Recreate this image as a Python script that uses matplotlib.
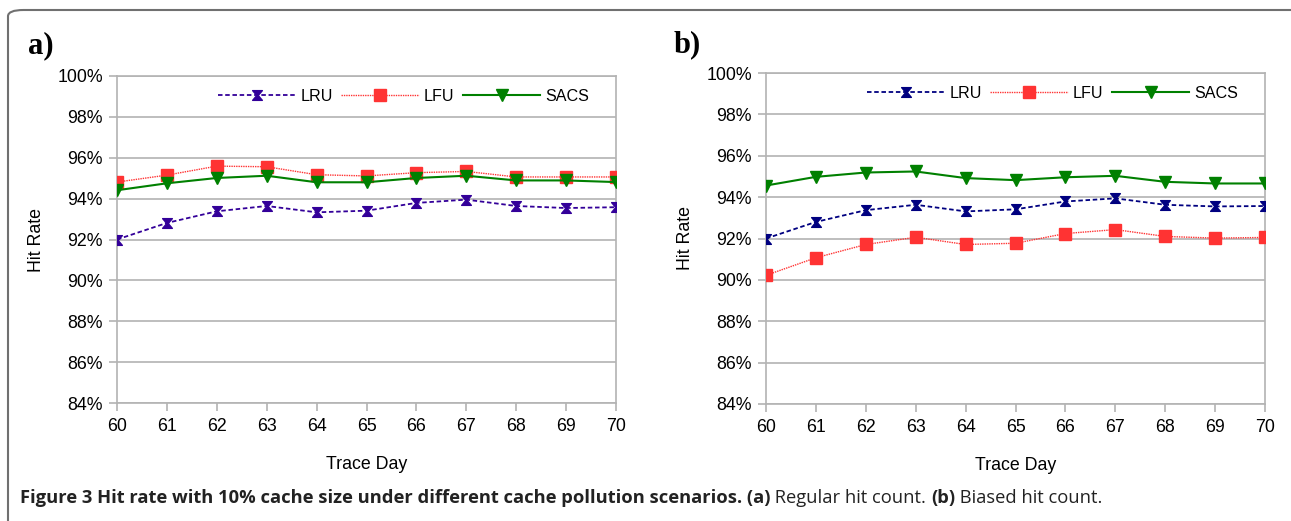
import matplotlib.pyplot as plt
import matplotlib.patches as mpatches
from matplotlib.path import Path
from matplotlib.ticker import FuncFormatter

# trace days on the x axis
days = [60, 61, 62, 63, 64, 65, 66, 67, 68, 69, 70]

# (a) regular hit count, hit rate in %
lru_a = [92.0, 92.81, 93.38, 93.64, 93.33, 93.41, 93.79, 93.95, 93.64, 93.54, 93.58]
lfu_a = [94.81, 95.15, 95.59, 95.56, 95.17, 95.11, 95.27, 95.33, 95.06, 95.06, 95.06]
sacs_a = [94.41, 94.75, 95.01, 95.12, 94.80, 94.80, 95.01, 95.12, 94.89, 94.89, 94.81]

# (b) biased hit count
lru_b = [92.0, 92.8, 93.37, 93.63, 93.31, 93.41, 93.79, 93.94, 93.63, 93.55, 93.57]
lfu_b = [90.22, 91.07, 91.71, 92.06, 91.71, 91.77, 92.24, 92.43, 92.10, 92.02, 92.05]
sacs_b = [94.56, 94.98, 95.19, 95.24, 94.92, 94.82, 94.96, 95.03, 94.74, 94.66, 94.66]

yticks = [84, 86, 88, 90, 92, 94, 96, 98, 100]

plt.rcParams['font.family'] = ['Liberation Sans', 'DejaVu Sans']
FS = 12.8

# hourglass marker used for LRU
hourglass = Path([(-1, 1), (1, 1), (0.15, 0), (1, -1), (-1, -1), (-0.15, 0), (-1, 1)],
                 [Path.MOVETO] + [Path.LINETO] * 5 + [Path.CLOSEPOLY])

fig = plt.figure(figsize=(12.91, 5.21), dpi=100)

# rounded frame around the whole figure
frame = mpatches.FancyBboxPatch((8 / 1291, -0.05), 1.2, 1 - 10 / 521 + 0.05,
                                boxstyle="round,pad=0,rounding_size=0.012",
                                transform=fig.transFigure, fill=False,
                                edgecolor='#707070', linewidth=1.5, clip_on=False)
fig.patches.append(frame)


def panel(rect, lru, lfu, sacs, lru_color, label, label_xy):
    ax = fig.add_axes(rect)
    ax.plot(days, lru, color=lru_color, linestyle=(0, (2.5, 1.5)), linewidth=1.3,
            marker=hourglass, markersize=7, label='LRU', zorder=3)
    ax.plot(days, lfu, color='#ff3333', linestyle=(0, (1, 0.7)), linewidth=1.0,
            marker='s', markersize=8, label='LFU', zorder=3)
    ax.plot(days, sacs, color='#008000', linestyle='-', linewidth=1.5,
            marker='v', markersize=8, label='SACS', zorder=3)
    ax.set_xlim(60, 70)
    ax.set_ylim(84, 100)
    ax.set_xticks(days)
    ax.set_yticks(yticks)
    ax.yaxis.set_major_formatter(FuncFormatter(lambda v, p: '%d%%' % v))
    ax.grid(axis='y', color='#b3b3b3', linewidth=1.2)
    ax.set_axisbelow(True)
    for s in ax.spines.values():
        s.set_color('#b3b3b3')
        s.set_linewidth(1.2)
    ax.tick_params(axis='both', colors='#b3b3b3', labelcolor='black', labelsize=FS,
                   length=6, width=1.2)
    ax.tick_params(axis='x', pad=5)
    ax.tick_params(axis='y', pad=4)
    ax.set_xlabel('Trace Day', fontsize=FS, labelpad=15)
    ax.set_ylabel('Hit Rate', fontsize=FS, labelpad=9)
    ax.legend(loc='upper right', ncol=3, frameon=False, fontsize=11.6,
              bbox_to_anchor=(0.975, 1.005), handlelength=4.8, columnspacing=0.55,
              handletextpad=0.3)
    fig.text(label_xy[0], label_xy[1], label, fontsize=22, fontweight='bold',
             family=['Liberation Serif', 'DejaVu Serif'], va='center', ha='left')
    return ax


panel([117 / 1291, 1 - 403 / 521, 499 / 1291, 327 / 521], lru_a, lfu_a, sacs_a,
      '#330099', 'a)', (28 / 1291, 1 - 46 / 521))
panel([766 / 1291, 1 - 404 / 521, 499 / 1291, 331 / 521], lru_b, lfu_b, sacs_b,
      '#000080', 'b)', (674 / 1291, 1 - 45 / 521))

# caption with bold and regular parts
parts = [("Figure 3 Hit rate with 10% cache size under different cache pollution scenarios. (a)", 'bold'),
         (" Regular hit count. ", 'normal'),
         ("(b)", 'bold'),
         (" Biased hit count.", 'normal')]
renderer = fig.canvas.get_renderer()
x = 20
for txt, w in parts:
    t = fig.text(x / 1291, 1 - 498 / 521, txt, fontsize=13.2, fontweight=w,
                 family=['Open Sans', 'DejaVu Sans'], va='center', ha='left',
                 color='#222222')
    bb = t.get_window_extent(renderer=renderer)
    x = bb.x1

fig.savefig('out.png', dpi=100)
